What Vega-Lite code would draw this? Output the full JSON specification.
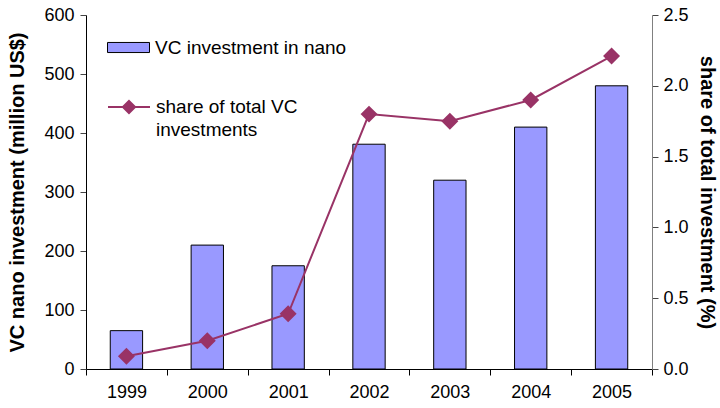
{
  "$schema": "https://vega.github.io/schema/vega-lite/v6.json",
  "width": 566,
  "height": 354,
  "autosize": {"type": "none"},
  "padding": {"left": 86, "top": 15, "right": 68, "bottom": 39},
  "background": "white",
  "config": {
    "font": "Liberation Sans",
    "view": {"stroke": null},
    "style": {"guide-label": {"lineHeight": 23}},
    "axis": {
      "grid": false,
      "labelColor": "black",
      "titleColor": "black",
      "labelFontSize": 18,
      "titleFontSize": 20,
      "titleFontWeight": "bold",
      "tickSize": 6
    }
  },
  "data": {
    "values": [
      {"year": "1999", "inv": 65, "share": 0.09},
      {"year": "2000", "inv": 210, "share": 0.2},
      {"year": "2001", "inv": 175, "share": 0.39},
      {"year": "2002", "inv": 381, "share": 1.8},
      {"year": "2003", "inv": 320, "share": 1.75},
      {"year": "2004", "inv": 410, "share": 1.9},
      {"year": "2005", "inv": 480, "share": 2.21}
    ]
  },
  "encoding": {
    "x": {
      "field": "year",
      "type": "nominal",
      "scale": {"paddingInner": 0, "paddingOuter": 0},
      "axis": {
        "title": null,
        "labelAngle": 0,
        "tickBand": "extent",
        "domainColor": "black",
        "tickColor": "black",
        "labelPadding": 8
      }
    }
  },
  "layer": [
    {
      "mark": {"type": "bar", "width": {"band": 0.4}, "stroke": "black", "strokeWidth": 1},
      "encoding": {
        "y": {
          "field": "inv",
          "type": "quantitative",
          "scale": {"domain": [0, 600], "nice": false},
          "axis": {
            "title": "VC nano investment (million US$)",
            "values": [0, 100, 200, 300, 400, 500, 600],
            "domainColor": "black",
            "tickColor": "#444",
            "labelPadding": 6,
            "titlePadding": 16
          }
        },
        "fill": {
          "datum": "VC investment in nano",
          "scale": {"range": ["#9999FF"]},
          "legend": {
            "title": null,
            "orient": "none",
            "legendX": 21,
            "legendY": 11,
            "padding": 0,
            "symbolType": "M-1,-0.24H1V0.24H-1Z",
            "symbolSize": 1764,
            "symbolStrokeColor": "black",
            "symbolStrokeWidth": 1,
            "labelFontSize": 19,
            "labelOffset": 5,
            "labelColor": "black",
            "labelLimit": 400
          }
        }
      }
    },
    {
      "mark": {
        "type": "line",
        "color": "#993366",
        "strokeWidth": 2,
        "point": {"shape": "diamond", "size": 200, "filled": true, "color": "#993366"}
      },
      "encoding": {
        "y": {
          "field": "share",
          "type": "quantitative",
          "scale": {"domain": [0, 2.5], "nice": false},
          "axis": {
            "orient": "right",
            "title": "share of total investment (%)",
            "values": [0, 0.5, 1, 1.5, 2, 2.5],
            "format": ".1f",
            "domainColor": "#808080",
            "tickColor": "#444",
            "labelPadding": 5,
            "titlePadding": 8
          }
        },
        "stroke": {
          "datum": "share of total VC investments",
          "scale": {"range": ["#993366"]},
          "legend": {
            "title": null,
            "orient": "none",
            "legendX": 21,
            "legendY": 70,
            "padding": 0,
            "symbolType": "M-1,0H1M0,-0.29L0.29,0L0,0.29L-0.29,0Z",
            "symbolSize": 1764,
            "symbolStrokeColor": "#993366",
            "symbolFillColor": "#993366",
            "symbolStrokeWidth": 2,
            "labelFontSize": 19,
            "labelOffset": 5,
            "labelColor": "black",
            "labelLimit": 400,
            "labelExpr": "['share of total VC', 'investments']"
          }
        }
      }
    }
  ],
  "resolve": {"scale": {"y": "independent", "fill": "independent", "stroke": "independent"}}
}
